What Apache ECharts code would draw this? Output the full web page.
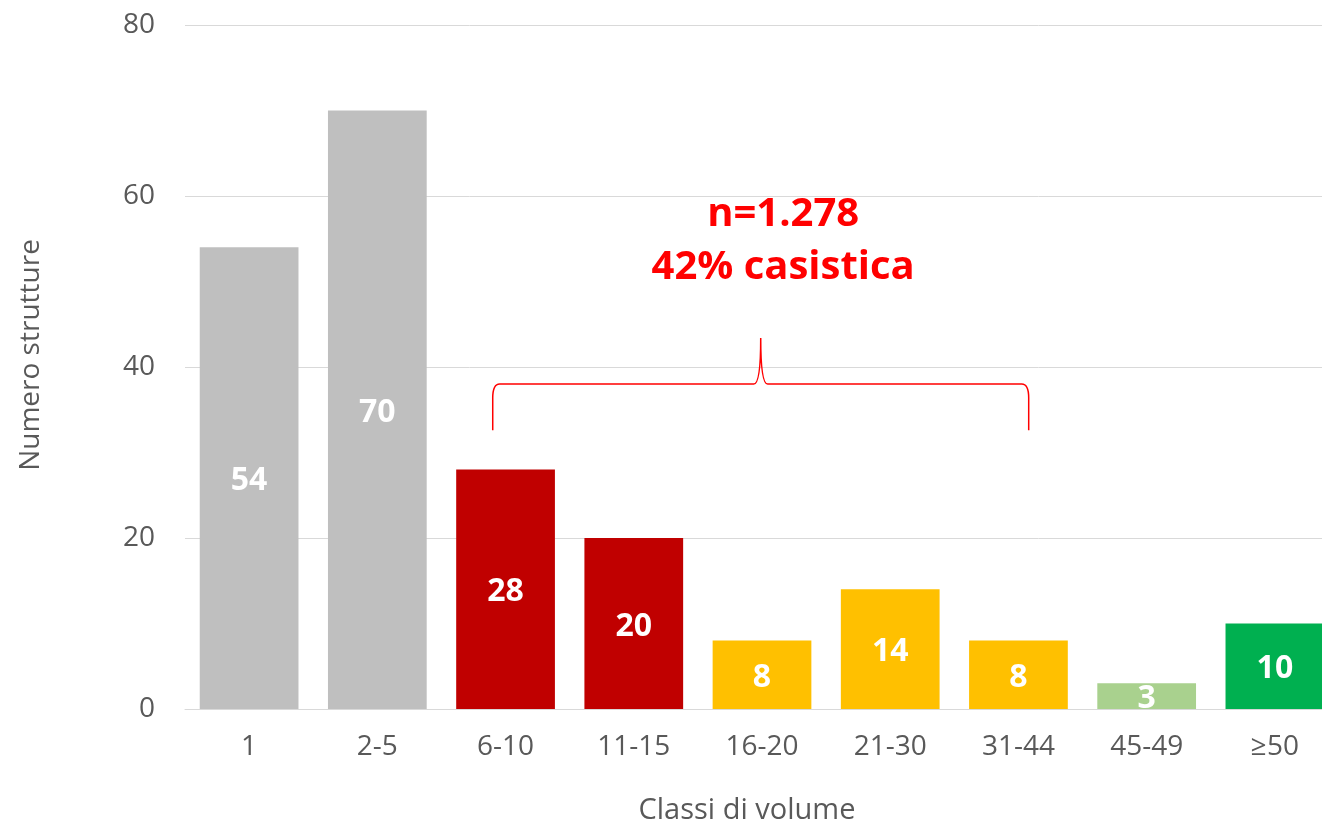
<!DOCTYPE html>
<html>
<head>
<meta charset="utf-8">
<script src="https://cdn.jsdelivr.net/npm/echarts@6/dist/echarts.min.js"></script>
<style>
html,body{margin:0;padding:0;background:#fff;}
#chart{width:1322px;height:823px;}
</style>
</head>
<body>
<div id="chart"></div>
<script>
// ---- data ----
const categories = ['1', '2-5', '6-10', '11-15', '16-20', '21-30', '31-44', '45-49', '≥50'];
const values = [54, 70, 28, 20, 8, 14, 8, 3, 10];
const barColors = ['#BFBFBF', '#BFBFBF', '#C00000', '#C00000', '#FFC000', '#FFC000', '#FFC000', '#A9D18E', '#00B050'];
const yTicks = { min: 0, max: 80, interval: 20 };
const annotationLines = ['n=1.278', '42% casistica'];
const braceFrom = '6-10';
const braceTo = '31-44';

const FONT = '"Open Sans", sans-serif';
const chart = echarts.init(document.getElementById('chart'), null, { renderer: 'canvas' });

const iFrom = categories.indexOf(braceFrom);
const iTo = categories.indexOf(braceTo);

function renderAnnotation(params, api) {
  const bw = api.size([1, 0])[0];
  const xL = api.coord([iFrom, 0])[0] - 0.1 * bw;
  const xR = api.coord([iTo, 0])[0] + 0.08 * bw;
  const xM = (xL + xR) / 2;
  const xT = api.coord([(iFrom + iTo) / 2, 0])[0] + 0.165 * bw;
  const yH = api.coord([0, 38])[1];
  const yTop = api.coord([0, 43.4])[1];
  const yEnd = api.coord([0, 32.6])[1];
  const r = 7;
  const d =
    `M ${xL} ${yEnd} L ${xL} ${yH + 2 * r} Q ${xL} ${yH} ${xL + r} ${yH} ` +
    `L ${xM - r} ${yH} Q ${xM} ${yH} ${xM} ${yTop} ` +
    `Q ${xM} ${yH} ${xM + r} ${yH} L ${xR - r} ${yH} ` +
    `Q ${xR} ${yH} ${xR} ${yH + 2 * r} L ${xR} ${yEnd}`;
  return {
    type: 'group',
    children: [
      { type: 'path', shape: { pathData: d }, style: { fill: null, stroke: '#FF0000', lineWidth: 1.5 } },
      { type: 'text', x: xT, y: api.coord([0, 57.8])[1],
        style: { text: annotationLines[0], fill: '#FF0000', font: 'bold 40px ' + FONT, textAlign: 'center', textVerticalAlign: 'middle' } },
      { type: 'text', x: xT, y: api.coord([0, 51.6])[1],
        style: { text: annotationLines[1], fill: '#FF0000', font: 'bold 40px ' + FONT, textAlign: 'center', textVerticalAlign: 'middle' } }
    ]
  };
}

const option = {
  animation: false,
  backgroundColor: '#ffffff',
  grid: { left: 185, width: 1154, top: 25, bottom: 114, containLabel: false, outerBoundsMode: 'none' },
  xAxis: {
    type: 'category',
    data: categories,
    name: 'Classi di volume',
    nameLocation: 'middle',
    nameGap: 87,
    nameTextStyle: { fontFamily: FONT, fontSize: 29, color: '#595959', padding: [0, 30, 0, 0] },
    axisLine: { lineStyle: { color: '#D9D9D9', width: 1 } },
    axisTick: { show: false },
    axisLabel: { fontFamily: FONT, fontSize: 28, color: '#595959', margin: 24 }
  },
  yAxis: {
    type: 'value',
    min: yTicks.min, max: yTicks.max, interval: yTicks.interval,
    name: 'Numero strutture',
    nameLocation: 'middle',
    nameGap: 140,
    nameTextStyle: { fontFamily: FONT, fontSize: 28, color: '#595959', padding: [0, 0, 0, 24] },
    axisLine: { show: false },
    axisTick: { show: false },
    splitLine: { lineStyle: { color: '#D9D9D9', width: 1 } },
    axisLabel: { fontFamily: FONT, fontSize: 28, color: '#595959', margin: 30 }
  },
  series: [{
    type: 'bar',
    data: values.map((v, i) => ({ value: v, itemStyle: { color: barColors[i] } })),
    barCategoryGap: '23%',
    label: {
      show: true, position: 'inside', color: '#ffffff', offset: [0, 3],
      fontFamily: FONT, fontWeight: 'bold', fontSize: 32
    }
  }, {
    type: 'custom',
    data: [0],
    clip: false,
    silent: true,
    z: 10,
    renderItem: renderAnnotation
  }]
};
chart.setOption(option);
</script>
</body>
</html>
